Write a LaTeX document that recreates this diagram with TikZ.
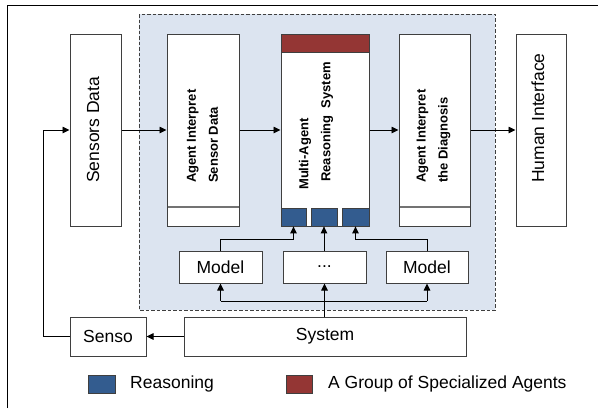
\documentclass[tikz,border=0pt]{standalone}
\usepackage{fontspec}
\setmainfont{Liberation Sans}
\usetikzlibrary{arrows.meta}
\definecolor{bordc}{HTML}{3F3F3F}
\definecolor{regfill}{HTML}{DCE4F0}
\definecolor{reasblue}{HTML}{335C8F}
\definecolor{agred}{HTML}{943634}
\tikzset{
  box/.style={draw=bordc, line width=1pt, fill=white, inner sep=0pt},
  bigtxt/.style={font=\fontsize{17.5}{21}\selectfont, inner sep=0pt},
  lbl/.style={font=\fontsize{13}{22}\selectfont\bfseries, inner sep=0pt, rotate=90, anchor=west, align=left},
  conn/.style={draw=black, line width=0.9pt},
  arr/.style={conn, -{Triangle[length=7pt,width=6.5pt]}},
  sq/.style={draw=bordc, line width=0.8pt, inner sep=0pt},
}
\begin{document}
\begin{tikzpicture}[x=1pt,y=-1pt]
\useasboundingbox (0,0) rectangle (598,408);
% frame
\draw[black, line width=0.8pt] (7,408) -- (7,5) -- (598,5);
% dashed region
\draw[fill=regfill, draw=bordc, dash pattern=on 3.5pt off 2pt, line width=0.9pt] (139,14) rectangle (495,310);
% main boxes
\node[box, minimum width=51pt, minimum height=192pt] (sd) at (95.5,130) {};
\node[box, minimum width=72pt, minimum height=192pt] (ais) at (203,130) {};
\node[box, minimum width=88pt, minimum height=192pt] (mas) at (325,130) {};
\node[box, minimum width=71pt, minimum height=192pt] (dia) at (434.5,130) {};
\node[box, minimum width=50pt, minimum height=192pt] (hi) at (541,130) {};
% strips
\draw[gray!90!black, line width=1.4pt] (167.5,207) -- (238.5,207);
\draw[gray!90!black, line width=1.4pt] (399.5,207) -- (469.5,207);
\node[sq, fill=agred, minimum width=88pt, minimum height=18pt] (grp) at (325,43) {};
\node[sq, fill=reasblue, minimum width=25pt, minimum height=18pt] (b1) at (293.5,217) {};
\node[sq, fill=reasblue, minimum width=26pt, minimum height=18pt] (b2) at (324,217) {};
\node[sq, fill=reasblue, minimum width=27pt, minimum height=18pt] (b3) at (355.5,217) {};
% labels
\node[bigtxt, rotate=90, anchor=west] (sdl) at (93,183) {Sensors Data};
\node[bigtxt, rotate=90, anchor=west] (hil) at (538,183) {Human Interface};
\node[lbl] (aisl) at (202.5,183) {Agent Interpret\\Sensor Data};
\node[lbl] (masl1) at (305,190) {Multi-Agent};
\node[lbl] (masl2) at (327,182) {Reasoning\ \ System};
\node[lbl] (dial) at (433.5,183) {Agent Interpret\\the Diagnosis};
% lower boxes
\node[box, bigtxt, minimum width=83pt, minimum height=32pt] (ml) at (220.5,267) {Model};
\node[box, bigtxt, minimum width=83pt, minimum height=32pt] (dots) at (324.5,267) {...};
\node[box, bigtxt, minimum width=82pt, minimum height=32pt] (mr) at (427,267) {Model};
\node[box, bigtxt, minimum width=282pt, minimum height=39pt] (sys) at (325,336.5) {System};
\node[box, bigtxt, minimum width=76pt, minimum height=39pt] (sen) at (108,336.5) {Senso};
% connectors
\coordinate (c1) at (43,336.5);
\coordinate (c2) at (43,130);
\draw[arr] (sen.west) -- (c1) -- (c2) -- (sd.west);
\draw[arr] (sd.east) -- (ais.west);
\draw[arr] (ais.east) -- (mas.west);
\draw[arr] (mas.east) -- (dia.west);
\draw[arr] (dia.east) -- (hi.west);
\draw[arr] (sys.west) -- (sen.east);
\draw[arr] (sys.north -| dots.south) -- (dots.south);
\coordinate (hl) at (220.5,301);
\coordinate (hr) at (427,301);
\draw[conn] (hl) -- (hr);
\draw[arr] (hl) -- (ml.south);
\draw[arr] (hr) -- (mr.south);
\coordinate (ul) at (220.5,239);
\coordinate (ul2) at (293.5,239);
\coordinate (ur) at (427,239);
\coordinate (ur2) at (355.5,239);
\draw[arr] (ml.north) -- (ul) -- (ul2) -- (b1.south);
\draw[arr] (dots.north -| b2.south) -- (b2.south);
\draw[arr] (mr.north) -- (ur) -- (ur2) -- (b3.south);
% legend
\node[sq, fill=reasblue, minimum width=27pt, minimum height=18pt] (lb) at (101.5,384) {};
\node[bigtxt, anchor=west] (lbt) at (130,384) {Reasoning};
\node[sq, fill=agred, minimum width=26pt, minimum height=18pt] (lr) at (299,384) {};
\node[bigtxt, anchor=west] (lrt) at (328,384) {A Group of Specialized Agents};
\end{tikzpicture}
\end{document}
